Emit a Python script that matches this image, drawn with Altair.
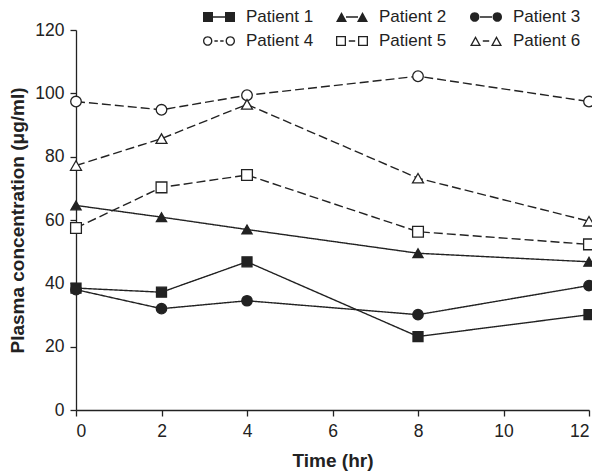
import altair as alt
import pandas as pd
import math

# ---- data ----
times = [0, 2, 4, 8, 12]
patients = ["Patient 1", "Patient 2", "Patient 3", "Patient 4", "Patient 5", "Patient 6"]
p1 = [38.5, 37.2, 46.8, 23.2, 30.1]
p2 = [64.6, 60.9, 57.0, 49.5, 46.8]
p3 = [38.0, 32.0, 34.5, 30.1, 39.3]
p4 = [97.4, 94.8, 99.4, 105.4, 97.4]
p5 = [57.5, 70.3, 74.2, 56.3, 52.3]
p6 = [77.2, 85.7, 96.5, 73.2, 59.6]
series = [p1, p2, p3, p4, p5, p6]

rows = []
for name, vals in zip(patients, series):
    for t, v in zip(times, vals):
        rows.append({"Patient": name, "Time": t, "Conc": v})
df = pd.DataFrame(rows)

INK = "#222222"
FONT = "Liberation Sans"

# ---- legend glyphs (marker - line - marker) as SVG paths ----
U = 16.0  # px per path unit (symbol size 32x32)


def f(v):
    return f"{v / U:.4f}"


def poly(pts, rev=False):
    if rev:
        pts = pts[::-1]
    return "M" + "L".join(f"{f(x)},{f(y)}" for x, y in pts) + "Z"


def rect(x0, y0, x1, y1, rev=False):
    return poly([(x0, y0), (x1, y0), (x1, y1), (x0, y1)], rev)


SW = 1.3


def square(cx, filled, h=5.0):
    s = rect(cx - h, -h, cx + h, h)
    if not filled:
        s += rect(cx - h + SW, -h + SW, cx + h - SW, h - SW, rev=True)
    return s


def circle(cx, filled, r=4.7):
    def c(rr, sweep):
        return (f"M{f(cx - rr)},0A{f(rr)},{f(rr)} 0 1,{sweep} {f(cx + rr)},0"
                f"A{f(rr)},{f(rr)} 0 1,{sweep} {f(cx - rr)},0Z")
    s = c(r, 1)
    if not filled:
        s += c(r - SW, 0)
    return s


def triangle(cx, filled, w=11.0, ht=10.0):
    A = (cx - w / 2, ht / 2)
    B = (cx + w / 2, ht / 2)
    C = (cx, -ht / 2)
    s = poly([A, B, C])
    if not filled:
        a = math.dist(B, C); b = math.dist(A, C); c = math.dist(A, B)
        P = a + b + c
        ix = (a * A[0] + b * B[0] + c * C[0]) / P
        iy = (a * A[1] + b * B[1] + c * C[1]) / P
        area = abs((B[0] - A[0]) * (C[1] - A[1]) - (C[0] - A[0]) * (B[1] - A[1])) / 2
        r = 2 * area / P
        k = (r - SW) / r
        inner = [(ix + (px - ix) * k, iy + (py - iy) * k) for px, py in (A, B, C)]
        s += poly(inner, rev=True)
    return s


def solid():
    return rect(-6, -0.8, 6, 0.8)


def dash2():
    return rect(-4.6, -0.7, -1.2, 0.7) + rect(1.2, -0.7, 4.6, 0.7)


def dash1():
    return rect(-3.2, -0.7, 3.2, 0.7)


legend_paths = [
    square(-11, True) + solid() + square(11, True),
    triangle(-10.5, True) + solid() + triangle(10.5, True),
    circle(-11.3, True) + solid() + circle(11.3, True),
    circle(-11.3, False) + dash2() + circle(11.3, False),
    square(-11, False) + dash1() + square(11, False),
    triangle(-10.5, False) + dash1() + triangle(10.5, False),
]

x_enc = alt.X("Time:Q", title="Time (hr)",
              scale=alt.Scale(domain=[0, 12], nice=False),
              axis=alt.Axis(values=[0, 2, 4, 6, 8, 10, 12], labelPadding=6, titlePadding=12))
y_enc = alt.Y("Conc:Q", title="Plasma concentration (μg/ml)",
              scale=alt.Scale(domain=[0, 120], nice=False),
              axis=alt.Axis(values=[0, 20, 40, 60, 80, 100, 120], labelPadding=6, titlePadding=7))

base = alt.Chart(df)

lines = base.mark_line(color=INK, strokeWidth=1.4).encode(
    x=x_enc, y=y_enc,
    detail="Patient:N",
    strokeDash=alt.StrokeDash("Patient:N", legend=None,
                              scale=alt.Scale(domain=patients,
                                              range=[[1, 0], [1, 0], [1, 0], [9, 4], [9, 4], [9, 4]])),
)

points = base.mark_point(opacity=1, stroke=INK, strokeWidth=1.3).encode(
    x=x_enc, y=y_enc,
    shape=alt.Shape("Patient:N", legend=None,
                    scale=alt.Scale(domain=patients,
                                    range=["square", "triangle-up", "circle",
                                           "circle", "square", "triangle-up"])),
    fill=alt.Fill("Patient:N", legend=None,
                  scale=alt.Scale(domain=patients,
                                  range=[INK, INK, INK, "white", "white", "white"])),
    size=alt.Size("Patient:N", legend=None,
                  scale=alt.Scale(domain=patients, range=[100, 120, 105, 110, 100, 120])),
)

legend_layer = base.mark_point(filled=True, color=INK, opacity=0).encode(
    x=x_enc, y=y_enc,
    shape=alt.Shape("Patient:N",
                    scale=alt.Scale(domain=patients, range=legend_paths),
                    legend=alt.Legend(title=None, orient="none", direction="horizontal",
                                      legendX=127, legendY=-29,
                                      columns=3, columnPadding=22, rowPadding=-3,
                                      symbolSize=1024, symbolOpacity=1,
                                      symbolFillColor=INK, symbolStrokeWidth=0,
                                      labelFont=FONT, labelFontSize=17, labelColor=INK,
                                      labelOffset=11, padding=0)),
)

chart = alt.layer(lines, points, legend_layer).resolve_scale(
    shape="independent", fill="independent", size="independent", strokeDash="independent"
).properties(
    width=513, height=380,
    autosize=alt.AutoSizeParams(type="none"),
    padding={"left": 68, "top": 22, "right": 3, "bottom": 64},
).configure_view(stroke=None).configure_axis(
    grid=False, domainColor=INK, tickColor=INK, domainWidth=1.3, tickWidth=1.3,
    tickSize=6, labelFont=FONT, titleFont=FONT, labelFontSize=17.5, titleFontSize=19,
    titleFontWeight="bold", labelColor=INK, titleColor=INK,
)

chart.save("out.html", embed_options={"renderer": "svg", "actions": False})
